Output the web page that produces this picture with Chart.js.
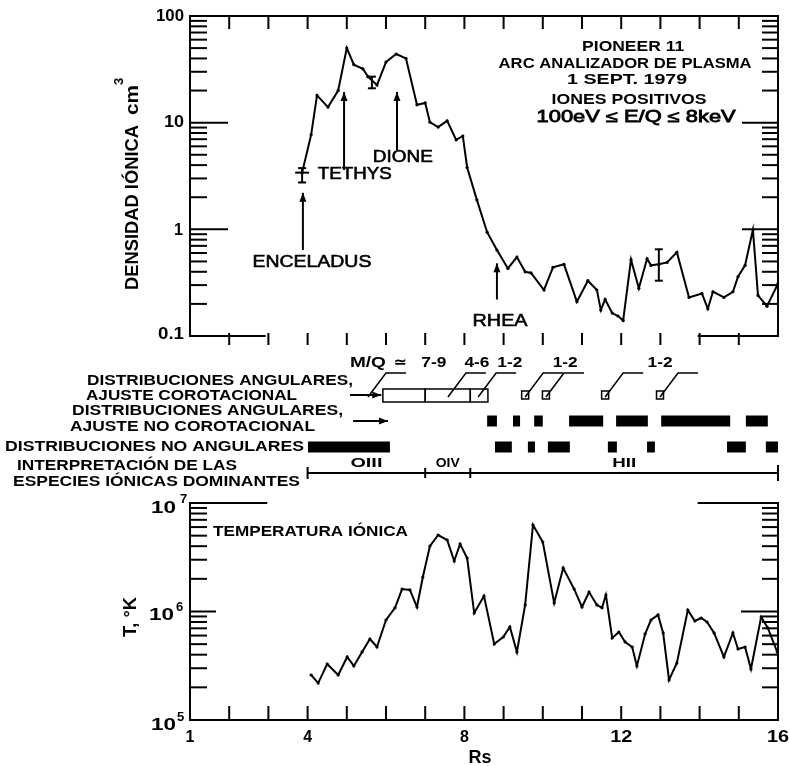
<!DOCTYPE html>
<html>
<head>
<meta charset="utf-8">
<script src="https://cdn.jsdelivr.net/npm/chart.js@4.4.1/dist/chart.umd.min.js"></script>
<style>
  html, body { margin: 0; padding: 0; background: #fff; }
</style>
</head>
<body>
<canvas id="grafico" width="790" height="766"></canvas>
<script>
// DENSIDAD IONICA (panel superior)
const rsDensidad = [3.86, 4.09, 4.24, 4.52, 4.78, 5.0, 5.18, 5.41, 5.54, 5.77, 6.0, 6.26, 6.51, 6.79, 7.0, 7.12, 7.33, 7.56, 7.79, 7.96, 8.07, 8.32, 8.58, 8.83, 9.11, 9.34, 9.55, 9.7, 10.03, 10.26, 10.54, 10.87, 11.15, 11.38, 11.48, 11.59, 11.77, 11.92, 12.05, 12.25, 12.45, 12.66, 12.76, 12.96, 13.17, 13.42, 13.73, 14.06, 14.21, 14.34, 14.62, 14.85, 14.98, 15.16, 15.36, 15.49, 15.72, 16.0];
const densidad = [3.4, 7.7, 18, 14, 20, 50, 35, 32, 27, 22.5, 37, 44, 40, 14.7, 15.3, 10.1, 9.1, 10.4, 6.9, 7.5, 3.8, 1.88, 0.94, 0.64, 0.43, 0.55, 0.40, 0.39, 0.27, 0.44, 0.47, 0.21, 0.33, 0.27, 0.175, 0.22, 0.164, 0.154, 0.14, 0.52, 0.28, 0.53, 0.46, 0.47, 0.49, 0.61, 0.23, 0.25, 0.18, 0.26, 0.23, 0.26, 0.36, 0.46, 0.99, 0.24, 0.19, 0.31];
// barras de error: [Rs, min, max]
const erroresDensidad = [[3.86, 2.75, 3.75], [5.64, 21, 27], [12.96, 0.33, 0.65]];

// TEMPERATURA IONICA (panel inferior)
const rsTemp = [4.09, 4.27, 4.50, 4.78, 5.01, 5.18, 5.39, 5.59, 5.77, 6.0, 6.23, 6.41, 6.61, 6.79, 6.94, 7.12, 7.33, 7.56, 7.74, 7.89, 8.07, 8.25, 8.50, 8.76, 8.99, 9.16, 9.34, 9.55, 9.75, 10.0, 10.29, 10.52, 10.80, 11.0, 11.18, 11.38, 11.51, 11.61, 11.77, 11.94, 12.10, 12.28, 12.40, 12.61, 12.76, 12.94, 13.07, 13.22, 13.42, 13.70, 13.88, 14.04, 14.19, 14.37, 14.62, 14.85, 14.98, 15.16, 15.31, 15.57, 15.74, 15.98];
const temperatura = [2.6e5, 2.19e5, 3.28e5, 2.6e5, 3.81e5, 3.15e5, 4.24e5, 5.58e5, 4.71e5, 8.35e5, 1.08e6, 1.61e6, 1.58e6, 1.10e6, 2.08e6, 4.01e6, 5.07e6, 4.56e6, 2.92e6, 4.19e6, 3.11e6, 9.68e5, 1.39e6, 5.01e5, 5.82e5, 7.20e5, 4.24e5, 1.15e6, 6.27e6, 4.37e6, 1.20e6, 2.52e6, 1.61e6, 1.10e6, 1.51e6, 1.15e6, 1.08e6, 1.42e6, 5.70e5, 6.47e5, 5.24e5, 4.71e5, 3.15e5, 6.21e5, 8.35e5, 9.29e5, 6.34e5, 2.34e5, 3.35e5, 1.03e6, 8.17e5, 8.71e5, 8.00e5, 6.34e5, 3.81e5, 6.34e5, 4.51e5, 4.71e5, 2.95e5, 8.89e5, 7.05e5, 4.24e5];

// lunas: [nombre, Rs, punta, cola, etiqueta Rs, etiqueta densidad, alineacion, ancho]
const lunas = [
  ['ENCELADUS', 3.88, 2.2, 0.64, 4.11, 0.49, 'center', 119],
  ['TETHYS', 4.93, 19.4, 3.6, 4.26, 3.3, 'left', 74],
  ['DIONE', 6.28, 19.4, 5.5, 6.43, 4.7, 'center', 60],
  ['RHEA', 8.83, 0.48, 0.22, 8.91, 0.138, 'center', 55]
];

// franja central (Rs inicio, Rs fin)
const cajasCorot = [[5.92, 7.0], [7.0, 8.15], [8.15, 8.6]];
const cuadrosCorot = [9.55, 10.08, 11.59, 12.99];
const guiasMQ = [5.54, 7.58, 8.35, 9.55, 10.08, 11.59, 12.99];
const etiquetasMQ = [['7-9', 7.22], ['4-6', 8.32], ['1-2', 9.16], ['1-2', 10.57], ['1-2', 12.99]];
const barrasAngNoCorot = [[8.58, 8.83], [9.24, 9.42], [9.78, 10.0], [10.67, 11.54], [11.87, 12.68], [13.02, 14.78], [15.18, 15.74]];
const barrasNoAngulares = [[4.01, 6.1], [8.78, 9.21], [9.62, 9.8], [10.13, 10.69], [11.66, 11.89], [12.66, 12.86], [14.7, 15.18], [15.69, 16.0]];
const especies = [['OIII', 4.0, 7.0], ['OIV', 7.0, 8.15], ['HII', 8.15, 16.0]];
// filas de la franja central (escala yM)
const FILA_ESPECIES = 1, FILA_NOANG = 2, FILA_NOCOROT = 3, FILA_COROT = 4, FILA_MQ = 5;

const FUENTE = '"Liberation Sans", Arial, Helvetica, sans-serif';

function segmentos(lista, fila) {
    let puntos = [];
    for (let s of lista) {
        puntos.push({ x: s[0], y: fila }, { x: s[1], y: fila }, { x: s[1], y: null });
    }
    return puntos;
}

function linea(c, x1, y1, x2, y2) {
    c.beginPath();
    c.moveTo(x1, y1);
    c.lineTo(x2, y2);
    c.stroke();
}

function texto(c, s, x, y, tam, ancho, alin, peso, trazo) {
    c.font = (peso || 'bold') + ' ' + tam + 'px ' + FUENTE;
    let w = c.measureText(s).width;
    c.save();
    c.translate(x, y);
    if (ancho) c.scale(ancho / w, 1);
    c.textAlign = alin || 'left';
    c.textBaseline = 'middle';
    c.fillText(s, 0, 0);
    if (trazo) {
        c.lineWidth = trazo;
        c.strokeText(s, 0, 0);
    }
    c.restore();
}

function textoVertical(c, s, x, y, tam, largo) {
    c.font = 'bold ' + tam + 'px ' + FUENTE;
    let w = c.measureText(s).width;
    c.save();
    c.translate(x, y);
    c.rotate(-Math.PI / 2);
    if (largo) c.scale(largo / w, 1);
    c.textAlign = 'left';
    c.textBaseline = 'middle';
    c.fillText(s, 0, 0);
    c.restore();
}

function flecha(c, x1, y1, x2, y2) {
    linea(c, x1, y1, x2, y2);
    let a = Math.atan2(y2 - y1, x2 - x1);
    c.beginPath();
    c.moveTo(x2, y2);
    c.lineTo(x2 - 9 * Math.cos(a) + 3.5 * Math.sin(a), y2 - 9 * Math.sin(a) - 3.5 * Math.cos(a));
    c.lineTo(x2 - 9 * Math.cos(a) - 3.5 * Math.sin(a), y2 - 9 * Math.sin(a) + 3.5 * Math.cos(a));
    c.closePath();
    c.fill();
}

function decadas(c, escala, bases, L, R, mayores, largoIzq, largoDer) {
    for (let b of bases) {
        for (let k = 2; k <= 9; k++) {
            let py = escala.getPixelForValue(k * b);
            linea(c, L, py, L + 17, py);
            linea(c, R - 16, py, R, py);
        }
    }
    for (let m of mayores) {
        let py = escala.getPixelForValue(m);
        linea(c, L, py, L + largoIzq, py);
        linea(c, R - largoDer, py, R, py);
    }
}

const marco = {
    id: 'marco',
    afterDraw(chart) {
        const c = chart.ctx;
        const x = chart.scales.x, yD = chart.scales.yD, yM = chart.scales.yM, yT = chart.scales.yT;
        const L = x.getPixelForValue(1), R = x.getPixelForValue(16);
        c.save();
        c.strokeStyle = '#000';
        c.fillStyle = '#000';
        c.lineWidth = 2;

        // panel superior
        const dTop = yD.getPixelForValue(100), dBot = yD.getPixelForValue(0.1);
        linea(c, L - 1, dTop, R + 1, dTop);
        linea(c, L, dTop, L, dBot);
        linea(c, R, dTop, R, dBot);
        linea(c, L - 1, dBot, x.getPixelForValue(2.93), dBot);
        linea(c, x.getPixelForValue(13.95), dBot, R + 1, dBot);
        for (let r = 2; r <= 15; r++) {
            let px = x.getPixelForValue(r);
            linea(c, px, dTop, px, dTop + 13);
            linea(c, px, dBot - 3, px, dBot + 9);
        }
        decadas(c, yD, [0.1, 1, 10], L, R, [1, 10], 38, 36);

        // panel inferior
        const tTop = yT.getPixelForValue(1e7), tBot = yT.getPixelForValue(1e5);
        linea(c, L - 1, tBot, R + 1, tBot);
        linea(c, L, tTop, L, tBot);
        linea(c, R, tTop, R, tBot);
        linea(c, L - 1, tTop, x.getPixelForValue(2.97), tTop);
        linea(c, x.getPixelForValue(13.95), tTop, R + 1, tTop);
        for (let r = 2; r <= 15; r++) {
            let px = x.getPixelForValue(r);
            linea(c, px, tBot, px, tBot - 14);
        }
        decadas(c, yT, [1e5, 1e6], L, R, [1e6], 26, 37);

        // barras de error
        for (let e of erroresDensidad) {
            let px = x.getPixelForValue(e[0]);
            let p1 = yD.getPixelForValue(e[1]), p2 = yD.getPixelForValue(e[2]);
            linea(c, px, p1, px, p2);
            linea(c, px - 4, p1, px + 4, p1);
            linea(c, px - 4, p2, px + 4, p2);
        }
        // cruz de Enceladus
        let pxE = x.getPixelForValue(erroresDensidad[0][0]), pyE = yD.getPixelForValue(densidad[0]);
        linea(c, pxE - 7, pyE, pxE + 7, pyE);

        // flechas de las lunas
        for (let l of lunas) {
            let px = x.getPixelForValue(l[1]);
            flecha(c, px, yD.getPixelForValue(l[3]), px, yD.getPixelForValue(l[2]));
            texto(c, l[0], x.getPixelForValue(l[4]), yD.getPixelForValue(l[5]), 17, l[7], l[6], 'normal', 0.6);
        }

        // bloque de titulo
        const cx = x.getPixelForValue(12.1);
        texto(c, 'PIONEER 11', cx + 8, dTop + 31, 15, 102, 'center');
        texto(c, 'ARC ANALIZADOR DE PLASMA', cx, dTop + 48, 15, 253, 'center');
        texto(c, '1 SEPT. 1979', cx + 2, dTop + 64, 15, 120, 'center');
        texto(c, 'IONES POSITIVOS', cx + 4, dTop + 84, 15, 155, 'center');
        texto(c, '100eV \u2264 E/Q \u2264 8keV', cx + 11, dTop + 102, 16, 199, 'center', 'normal', 0.8);

        // etiquetas eje Y superior
        texto(c, '100', L - 6, dTop + 1, 16, 28, 'right');
        texto(c, '10', L - 6, yD.getPixelForValue(10), 16, 20, 'right');
        texto(c, '1', L - 7, yD.getPixelForValue(1) + 1, 16, 0, 'right');
        texto(c, '0.1', L - 6, dBot - 1, 16, 26, 'right');
        textoVertical(c, 'DENSIDAD I\u00d3NICA', 133, 290, 18, 165);
        textoVertical(c, 'cm', 133, 115, 18, 30);
        textoVertical(c, '3', 119, 85, 13, 0);

        // etiquetas eje Y inferior
        texto(c, '10', L - 14, tTop + 6, 16, 25, 'right');
        texto(c, '7', L - 10, tTop - 4, 13, 0, 'left');
        texto(c, '10', L - 16, yT.getPixelForValue(1e6) + 4, 16, 25, 'right');
        texto(c, '6', L - 14, yT.getPixelForValue(1e6) - 4, 13, 0, 'left');
        texto(c, '10', L - 14, tBot + 6, 16, 25, 'right');
        texto(c, '5', L - 13, tBot - 3, 13, 0, 'left');
        textoVertical(c, 'T, \u00b0K', 131, 637, 18, 40);
        texto(c, 'TEMPERATURA I\u00d3NICA', L + 23, tTop + 29, 14, 195, 'left');

        // etiquetas eje X
        for (let v of [1, 4, 8, 12, 16]) {
            texto(c, String(v), x.getPixelForValue(v), tBot + 18, 16, v > 9 ? 22 : 0, 'center');
        }
        texto(c, 'Rs', x.getPixelForValue(8.4), tBot + 38, 18, 0, 'center');

        // franja central
        const yCorot = yM.getPixelForValue(FILA_COROT);
        const yMQ = yM.getPixelForValue(FILA_MQ);
        c.lineWidth = 1.5;
        for (let cj of cajasCorot) {
            let x1 = x.getPixelForValue(cj[0]), x2 = x.getPixelForValue(cj[1]);
            c.strokeRect(x1, yCorot - 6, x2 - x1, 13);
        }
        for (let q of cuadrosCorot) {
            let px = x.getPixelForValue(q);
            c.strokeRect(px - 3.5, yCorot - 4, 7, 8);
        }
        for (let g of guiasMQ) {
            let px = x.getPixelForValue(g);
            c.beginPath();
            c.moveTo(px, yCorot + 2);
            c.lineTo(px + 18, yMQ + 4);
            c.lineTo(px + 38, yMQ + 4);
            c.stroke();
        }
        for (let et of etiquetasMQ) {
            texto(c, et[0], x.getPixelForValue(et[1]), yMQ - 6, 14, 25, 'center');
        }
        texto(c, 'M/Q', x.getPixelForValue(5.08), yMQ - 6, 14, 36, 'left');
        texto(c, '\u2243', x.getPixelForValue(6.36), yMQ - 6, 15, 0, 'center');

        c.lineWidth = 2;
        flecha(c, x.getPixelForValue(5.08), yCorot, x.getPixelForValue(5.88), yCorot);
        flecha(c, x.getPixelForValue(5.16), yM.getPixelForValue(FILA_NOCOROT), x.getPixelForValue(6.05), yM.getPixelForValue(FILA_NOCOROT));

        // corchete de especies
        const yEsp = yM.getPixelForValue(FILA_ESPECIES);
        linea(c, x.getPixelForValue(especies[0][1]), yEsp, R, yEsp);
        for (let i = 0; i < especies.length; i++) {
            let x1 = x.getPixelForValue(especies[i][1]), x2 = x.getPixelForValue(especies[i][2]);
            let alto = i === 0 ? 6 : 5;
            linea(c, x1, yEsp - alto, x1, yEsp + alto);
            if (i === especies.length - 1) linea(c, x2, yEsp - 8, x2, yEsp + 8);
            texto(c, especies[i][0], (x1 + x2) / 2, yEsp - 10, 13, especies[i][0].length * 8, 'center');
        }

        // textos de la izquierda
        texto(c, 'DISTRIBUCIONES ANGULARES,', 87, yM.getPixelForValue(FILA_COROT) - 14, 14, 266, 'left');
        texto(c, 'AJUSTE COROTACIONAL', 86, yM.getPixelForValue(FILA_COROT) + 1, 14, 211, 'left');
        texto(c, 'DISTRIBUCIONES ANGULARES,', 72, yM.getPixelForValue(FILA_NOCOROT) - 10, 14, 271, 'left');
        texto(c, 'AJUSTE NO COROTACIONAL', 70, yM.getPixelForValue(FILA_NOCOROT) + 6, 14, 245, 'left');
        texto(c, 'DISTRIBUCIONES NO ANGULARES', 5, yM.getPixelForValue(FILA_NOANG), 14, 299, 'left');
        texto(c, 'INTERPRETACI\u00d3N DE LAS', 17, yEsp - 7, 14, 220, 'left');
        texto(c, 'ESPECIES I\u00d3NICAS DOMINANTES', 13, yEsp + 9, 14, 287, 'left');
        c.restore();
    }
};

const estiloCurva = {
    borderColor: '#000',
    backgroundColor: '#000',
    borderWidth: 2,
    pointRadius: 1.6,
    pointBackgroundColor: '#000',
    pointBorderWidth: 0,
    tension: 0,
    fill: false
};
const estiloBarra = {
    yAxisID: 'yM',
    borderColor: '#000',
    borderWidth: 11,
    borderCapStyle: 'butt',
    pointRadius: 0,
    spanGaps: false,
    fill: false
};

let grafico = new Chart(document.getElementById('grafico'), {
    type: 'line',
    data: {
        datasets: [
            Object.assign({ label: 'Densidad', yAxisID: 'yD', data: rsDensidad.map((r, i) => ({ x: r, y: densidad[i] })) }, estiloCurva),
            Object.assign({ label: 'Temperatura', yAxisID: 'yT', data: rsTemp.map((r, i) => ({ x: r, y: temperatura[i] })) }, estiloCurva),
            Object.assign({ label: 'Angulares no corotacional', data: segmentos(barrasAngNoCorot, FILA_NOCOROT) }, estiloBarra),
            Object.assign({ label: 'No angulares', data: segmentos(barrasNoAngulares, FILA_NOANG) }, estiloBarra)
        ]
    },
    options: {
        responsive: false,
        animation: false,
        events: [],
        layout: { padding: { left: 190, right: 12, top: 16, bottom: 46 } },
        plugins: { legend: { display: false }, tooltip: { enabled: false } },
        scales: {
            x: { type: 'linear', min: 1, max: 16, display: false },
            yD: { type: 'logarithmic', min: 0.1, max: 100, position: 'left', stack: 'v', stackWeight: 320, weight: 3, display: false },
            yM: { type: 'linear', min: -0.154, max: 6.269, position: 'left', stack: 'v', stackWeight: 167, weight: 2, display: false },
            yT: { type: 'logarithmic', min: 1e5, max: 1e7, position: 'left', stack: 'v', stackWeight: 217, weight: 1, display: false }
        }
    },
    plugins: [marco]
});
</script>
</body>
</html>
